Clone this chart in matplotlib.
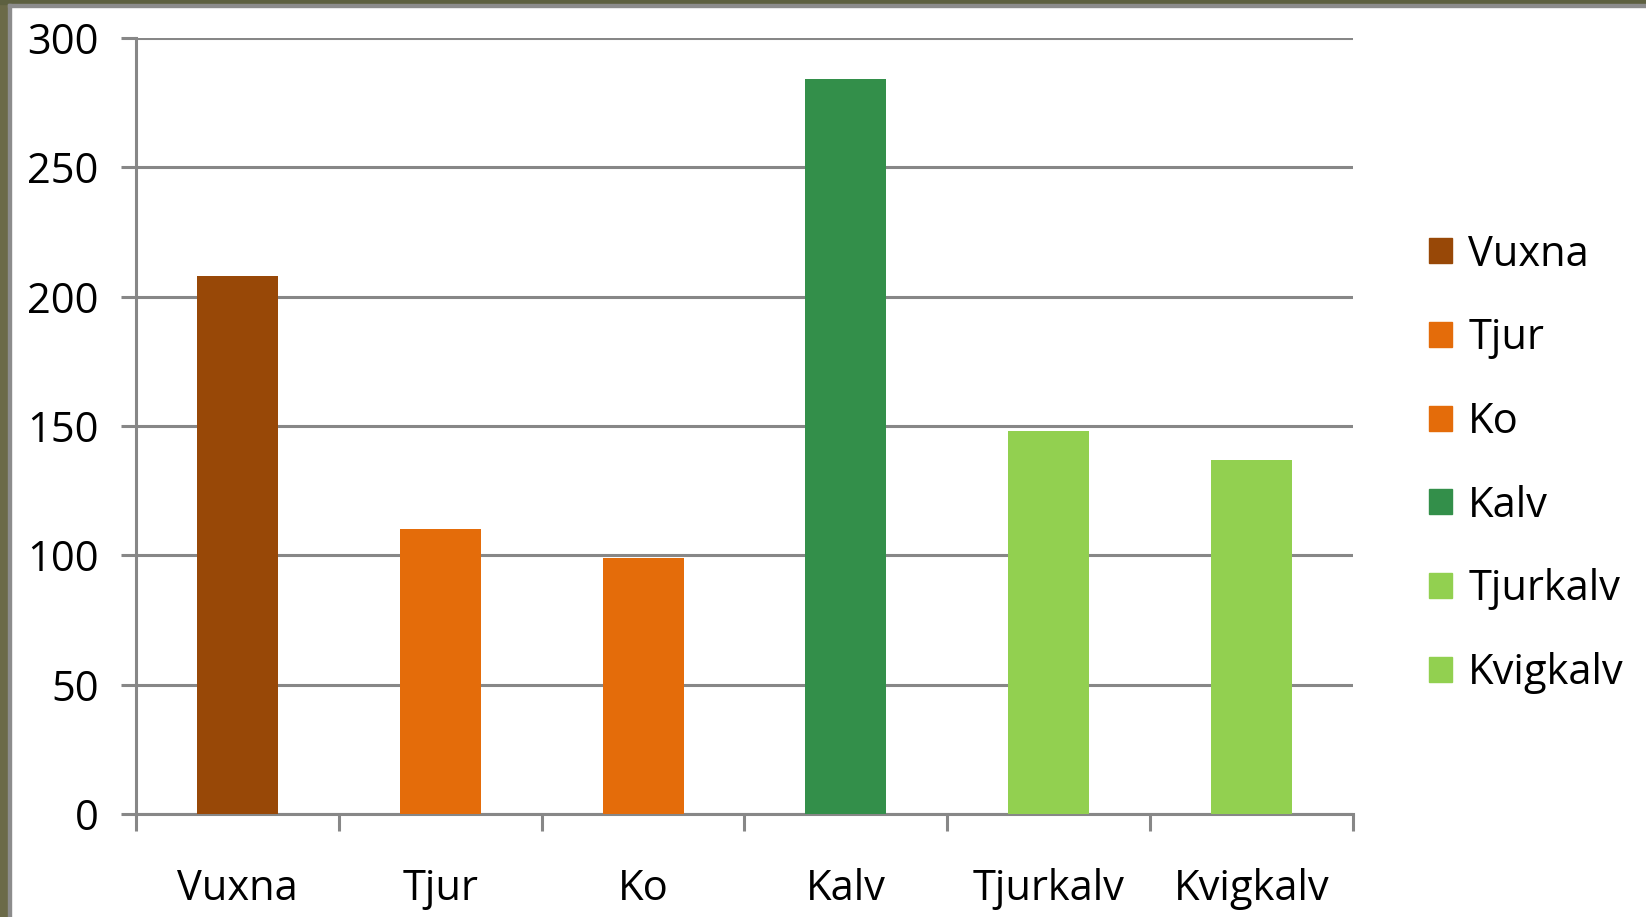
import matplotlib

matplotlib.use("Agg")
import matplotlib.pyplot as plt
import matplotlib.patches as mpatches

plt.rcParams["font.family"] = ["Open Sans", "DejaVu Sans"]

# ---------------------------------------------------------------------------
# Data
# ---------------------------------------------------------------------------

categories = ["Vuxna", "Tjur", "Ko", "Kalv", "Tjurkalv", "Kvigkalv"]
counts = [208, 110, 99, 284, 148, 137]
bar_colors = ["#984807", "#E46C0A", "#E46C0A", "#338F4A", "#92D050", "#92D050"]
y_ticks = [0, 50, 100, 150, 200, 250, 300]

GRID = "#878787"

W, H = 1646, 917
fig = plt.figure(figsize=(W / 100, H / 100), dpi=100)
fig.patch.set_facecolor("white")

# photo strip at the left and top edge, and the grey frame of the slide box
fig.add_artist(mpatches.Rectangle((0, 0), 8 / W, 1, transform=fig.transFigure,
                                  color="#6b6a48", zorder=0))
fig.add_artist(mpatches.Rectangle((0, 1 - 3.5 / H), 1, 3.5 / H, transform=fig.transFigure,
                                  color="#5d6040", zorder=0))
fig.add_artist(mpatches.Rectangle((8 / W, 0), 3 / W, 1 - 3.5 / H, transform=fig.transFigure,
                                  color="#8c8c8c", zorder=0))
fig.add_artist(mpatches.Rectangle((8 / W, 1 - 7 / H), 1, 3.5 / H, transform=fig.transFigure,
                                  color="#8c8c8c", zorder=0))

ax = fig.add_axes([136 / W, 103 / H, 1217 / W, 776 / H])
x = list(range(len(categories)))
bars = ax.bar(x, counts, width=0.4, color=bar_colors, zorder=3)

ax.set_xlim(-0.5, len(categories) - 0.5)
ax.set_ylim(0, 300)
ax.set_yticks(y_ticks)
ax.set_yticklabels([str(v) for v in y_ticks], fontsize=30)

# category labels between boundary ticks
ax.set_xticks([i - 0.5 for i in range(len(categories) + 1)])
ax.set_xticklabels([])
ax.set_xticks(x, minor=True)
ax.set_xticklabels(categories, minor=True, fontsize=30)
ax.tick_params(axis="x", which="minor", length=0, pad=39)
ax.tick_params(axis="x", which="major", length=12, width=2.2, color=GRID, direction="out")
ax.tick_params(axis="y", length=11, width=2.2, color=GRID, direction="out", pad=16)

ax.grid(axis="y", color=GRID, linewidth=2.2, zorder=0)
ax.set_axisbelow(True)
for side in ["top", "right"]:
    ax.spines[side].set_visible(False)
for side in ["left", "bottom"]:
    ax.spines[side].set_color(GRID)
    ax.spines[side].set_linewidth(2.2)

handles = [mpatches.Patch(color=c, label=l) for c, l in zip(bar_colors, categories)]
fig.legend(handles=handles, loc="upper left", bbox_to_anchor=(1412 / W, 1 - 217 / H),
           frameon=False, fontsize=30, handlelength=0.55, handleheight=0.55,
           handletextpad=0.4, labelspacing=1.0, borderaxespad=0)

fig.savefig("out.png", dpi=100, facecolor=fig.get_facecolor())
